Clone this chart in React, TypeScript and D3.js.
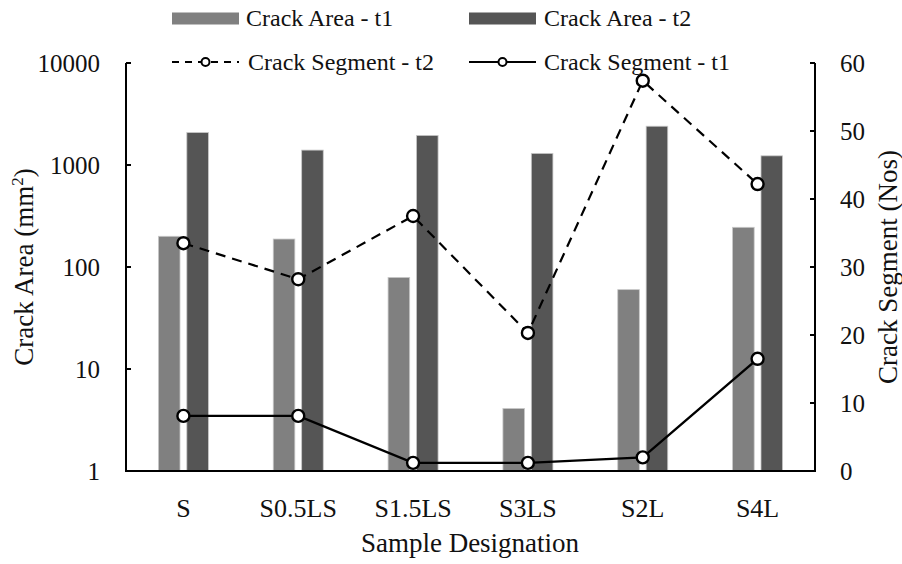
import * as d3 from "d3";

const categories = ["S", "S0.5LS", "S1.5LS", "S3LS", "S2L", "S4L"];
const areaT1 = [200, 188, 79, 4.1, 60, 245];
const areaT2 = [2080, 1400, 1950, 1300, 2400, 1230];
const segmentT2 = [33.5, 28.2, 37.5, 20.3, 57.4, 42.2];
const segmentT1 = [8.1, 8.1, 1.2, 1.2, 2.0, 16.5];
const leftTicks = [1, 10, 100, 1000, 10000];
const rightTicks = [0, 10, 20, 30, 40, 50, 60];

const W = 902;
const H = 564;
const PLOT = { left: 126, right: 815, top: 63, bottom: 471 };
const FONT = '"Liberation Serif", "DejaVu Serif", serif';
const C_T1 = "#808080";
const C_T2 = "#555555";

export default function App() {
  const x0 = d3
    .scaleBand<string>()
    .domain(categories)
    .range([PLOT.left, PLOT.right]);
  const x1 = d3
    .scaleBand<string>()
    .domain(["t1", "t2"])
    .range([0, 50])
    .paddingInner(0.24);
  const yLeft = d3
    .scaleLog()
    .domain([1, 10000])
    .range([PLOT.bottom, PLOT.top]);
  const yRight = d3
    .scaleLinear()
    .domain([0, 60])
    .range([PLOT.bottom, PLOT.top]);

  const cx = (c: string) => (x0(c) as number) + x0.bandwidth() / 2;

  const line = d3
    .line<number>()
    .x((_, i) => cx(categories[i]))
    .y((d) => yRight(d));

  const bars = [
    { key: "t1", vals: areaT1, color: C_T1 },
    { key: "t2", vals: areaT2, color: C_T2 },
  ];

  return (
    <svg
      width={W}
      height={H}
      style={{ position: "absolute", left: 0, top: 0, background: "#fff", fontFamily: FONT }}
    >
      {/* bars */}
      {bars.map((b) =>
        b.vals.map((v, i) => {
          const c = categories[i];
          const x = cx(c) - 25 + (x1(b.key) as number);
          return (
            <rect
              key={b.key + c}
              x={x}
              y={yLeft(v)}
              width={x1.bandwidth()}
              height={PLOT.bottom - yLeft(v)}
              fill={b.color}
              stroke="#c8c8c8"
              strokeWidth={0.8}
            />
          );
        })
      )}

      {/* lines */}
      <path
        d={line(segmentT2) || ""}
        fill="none"
        stroke="#000"
        strokeWidth={2.2}
        strokeDasharray="10,7"
      />
      <path d={line(segmentT1) || ""} fill="none" stroke="#000" strokeWidth={2.4} />
      {[segmentT2, segmentT1].map((s, k) =>
        s.map((v, i) => (
          <circle
            key={k + "-" + i}
            cx={cx(categories[i])}
            cy={yRight(v)}
            r={6}
            fill="#fff"
            stroke="#000"
            strokeWidth={2.4}
          />
        ))
      )}

      {/* axes */}
      <g stroke="#000" strokeWidth={2} fill="none">
        <line x1={PLOT.left} x2={PLOT.left} y1={PLOT.top} y2={PLOT.bottom} />
        <line x1={PLOT.right} x2={PLOT.right} y1={PLOT.top} y2={PLOT.bottom} />
        <line x1={PLOT.left - 1} x2={PLOT.right + 1} y1={PLOT.bottom} y2={PLOT.bottom} />
        {leftTicks.map((t) => (
          <line key={"lt" + t} x1={PLOT.left} x2={PLOT.left + 5} y1={yLeft(t)} y2={yLeft(t)} />
        ))}
        {rightTicks.map((t) => (
          <line key={"rt" + t} x1={PLOT.right - 5} x2={PLOT.right} y1={yRight(t)} y2={yRight(t)} />
        ))}
      </g>

      <g fontSize={25} fill="#111" style={{ fontFamily: FONT }}>
        {leftTicks.map((t) => (
          <text key={"ll" + t} x={100} y={yLeft(t)} textAnchor="end" dominantBaseline="central">
            {t}
          </text>
        ))}
        {rightTicks.map((t) => (
          <text key={"rl" + t} x={840} y={yRight(t)} dominantBaseline="central">
            {t}
          </text>
        ))}
      </g>
      <g fontSize={26} fill="#111" style={{ fontFamily: FONT }}>
        {categories.map((c) => (
          <text key={"c" + c} x={cx(c)} y={517} textAnchor="middle">
            {c}
          </text>
        ))}
      </g>

      {/* titles */}
      <g fontSize={27} fill="#111" style={{ fontFamily: FONT }} textAnchor="middle">
        <text x={470} y={552}>Sample Designation</text>
        <text transform={`translate(33,${(PLOT.top + PLOT.bottom) / 2}) rotate(-90)`}>
          Crack Area (mm
          <tspan fontSize={17} dy={-10}>
            2
          </tspan>
          <tspan dy={10}>)</tspan>
        </text>
        <text transform={`translate(897,${(PLOT.top + PLOT.bottom) / 2}) rotate(-90)`}>
          Crack Segment (Nos)
        </text>
      </g>

      {/* legend */}
      <g fontSize={24} fill="#111" style={{ fontFamily: FONT }}>
        <rect x={172} y={12.5} width={67} height={12} fill={C_T1} />
        <text x={246} y={26}>Crack Area - t1</text>
        <rect x={469} y={12.5} width={67} height={12} fill={C_T2} />
        <text x={544} y={26}>Crack Area - t2</text>

        <line x1={172} x2={239} y1={62} y2={62} stroke="#000" strokeWidth={2} strokeDasharray="7,6" />
        <circle cx={205.5} cy={62} r={4} fill="#fff" stroke="#000" strokeWidth={2} />
        <text x={248} y={70}>Crack Segment - t2</text>
        <line x1={469} x2={536} y1={62} y2={62} stroke="#000" strokeWidth={2} />
        <circle cx={502.5} cy={62} r={4} fill="#fff" stroke="#000" strokeWidth={2} />
        <text x={544} y={70}>Crack Segment - t1</text>
      </g>
    </svg>
  );
}
